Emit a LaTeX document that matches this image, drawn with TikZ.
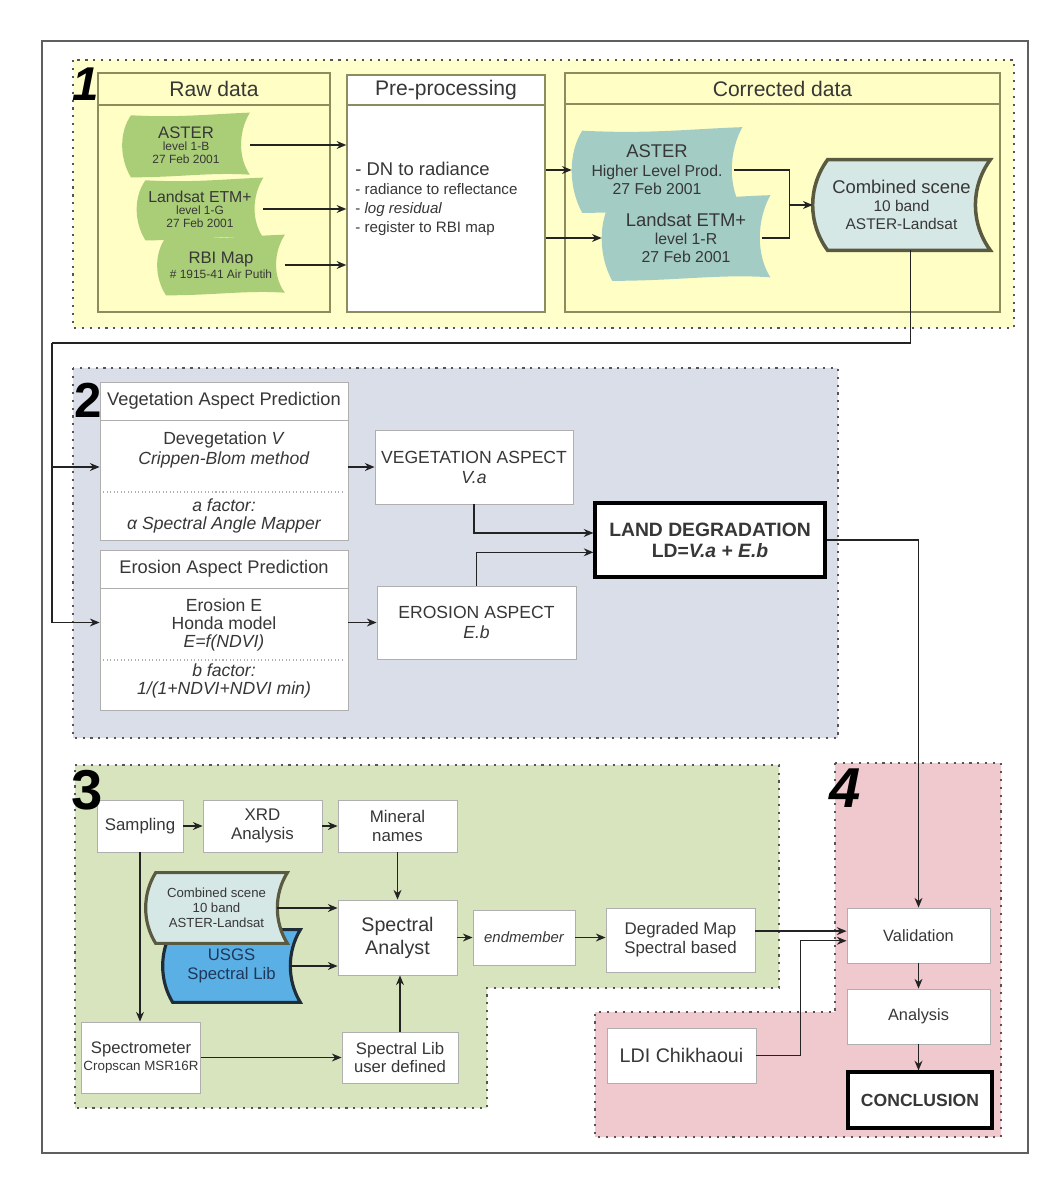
\documentclass[tikz,border=0pt]{standalone}
\usepackage{fontspec}
\setmainfont{Liberation Sans}
\usetikzlibrary{arrows.meta,positioning,calc,backgrounds}

\definecolor{txt}{RGB}{55,55,55}
\definecolor{boxline}{RGB}{175,175,175}
\definecolor{linecol}{RGB}{35,35,35}
\definecolor{dotline}{RGB}{85,85,85}
\definecolor{framecol}{RGB}{95,95,95}
\definecolor{sec1bg}{RGB}{255,255,204}
\definecolor{sec1panel}{RGB}{255,254,196}
\definecolor{panelline}{RGB}{140,140,95}
\definecolor{sec2bg}{RGB}{218,222,232}
\definecolor{sec3bg}{RGB}{216,228,190}
\definecolor{sec4bg}{RGB}{240,201,206}
\definecolor{rawgreen}{RGB}{170,205,120}
\definecolor{corteal}{RGB}{163,205,196}
\definecolor{combfill}{RGB}{214,232,230}
\definecolor{combline}{RGB}{90,90,65}
\definecolor{usgsblue}{RGB}{90,175,228}
\definecolor{usgsline}{RGB}{30,45,55}
\definecolor{usgstext}{RGB}{30,55,90}

\newcommand{\sz}[2]{\fontsize{#1pt}{#2pt}\selectfont}
% stored-data outline round a node: #1 node, #2 bulge, #3 wave, #4 style
\newcommand{\tapeshape}[4]{%
  \path[#4] let \p1=(#1.north west), \p2=(#1.south east), \n1={\x2-\x1} in
    ({\x1+#2},{\y1-#3}) .. controls ({\x1+0.45*\n1},{\y1-2*#3}) and ({\x2-0.3*\n1},{\y1-0.5*#3}) .. (\x2,\y1)
    .. controls ({\x2-1.333*#2},{0.7*\y1+0.3*\y2}) and ({\x2-1.333*#2},{0.3*\y1+0.7*\y2}) .. (\x2,{\y2+#3})
    .. controls ({\x2-0.3*\n1},{\y2+2*#3}) and ({\x1+0.45*\n1},{\y2}) .. ({\x1+#2},\y2)
    .. controls ({\x1-0.333*#2},{0.3*\y1+0.7*\y2}) and ({\x1-0.333*#2},{0.7*\y1+0.3*\y2}) .. cycle;}

\pgfdeclarelayer{back}
\pgfsetlayers{back,background,main}

\tikzset{
  box/.style={draw=boxline, fill=white, text=txt, align=center, inner sep=1pt, line width=0.5pt},
  heavybox/.style={box, draw=black, line width=1.8pt},
  datanode/.style={text=txt, align=center, inner sep=0pt},
  zone/.style={draw=dotline, line width=1.2pt, dash pattern=on 1.2pt off 3.3pt},
  panelbox/.style={draw=panelline, line width=0.8pt},
  link/.style={draw=linecol, line width=0.8pt, -{Stealth[length=5.5pt,width=4.5pt]}},
  wire/.style={draw=linecol, line width=0.8pt},
  secnum/.style={text=black, inner sep=0pt},
  splitline/.style={draw=boxline, line width=0.6pt, dash pattern=on 0.6pt off 1.4pt},
}

\begin{document}
\begin{tikzpicture}[x=0.02cm, y=-0.02cm]
\useasboundingbox (0,0) rectangle (1058,1189);
\draw[draw=framecol, line width=0.6pt] (42,41) rectangle (1028,1153);

% 1 - data preparation
\node[datanode, font={\sz{12}{14}}] (rawtitle) at (214,89) {Raw data};
\node[box, draw=panelline, line width=0.8pt, minimum width=3.96cm, minimum height=0.60cm, font={\sz{12}{14}}] (preptitle) at (446,90) {Pre-processing};
\node[box, draw=panelline, line width=0.8pt, minimum width=3.96cm, minimum height=4.14cm] (prep) at (446,208.5) {};
\node[datanode, align=left, anchor=west, font={\sz{8.6}{10.8}}] (preptext) at (355,199)
  {{\sz{10.5}{12}- DN to radiance}\\- radiance to reflectance\\- \textit{log residual}\\- register to RBI map};
\node[datanode, font={\sz{12}{14}}] (cortitle) at (782.5,88.5) {Corrected data};

\node[datanode, minimum width=2.54cm, minimum height=1.28cm, font={\sz{6.8}{7.2}}] (rawaster) at (186,145)
  {{\sz{9.5}{10}ASTER}\\level 1-B\\27 Feb 2001};
\node[datanode, minimum width=2.52cm, minimum height=1.24cm, font={\sz{6.8}{7.2}}] (rawetm) at (200,209)
  {{\sz{9}{10}Landsat ETM+}\\level 1-G\\27 Feb 2001};
\node[datanode, minimum width=2.54cm, minimum height=1.20cm, font={\sz{6.8}{8.5}}] (rawrbi) at (221,265)
  {{\sz{9.5}{10}RBI Map}\\\# 1915-41 Air Putih};

\node[datanode, minimum width=3.40cm, minimum height=1.70cm, font={\sz{9}{10.5}}] (coraster) at (657,170)
  {{\sz{10.5}{12}ASTER}\\Higher Level Prod.\\27 Feb 2001};
\node[datanode, minimum width=3.36cm, minimum height=1.70cm, font={\sz{9}{10.3}}] (coretm) at (686,238)
  {{\sz{10.5}{12}Landsat ETM+}\\level 1-R\\27 Feb 2001};
\node[datanode, minimum width=3.54cm, minimum height=1.80cm, font={\sz{8.8}{10.2}}] (comb) at (901.5,205)
  {{\sz{10.5}{12}Combined scene}\\10 band\\ASTER-Landsat};

\draw[link] (rawaster.east) -- (rawaster.east -| prep.west);
\draw[link] (rawetm.east) -- (rawetm.east -| prep.west);
\draw[link] (rawrbi.east) -- (rawrbi.east -| prep.west);
\draw[link] (coraster.west -| prep.east) -- (coraster.west);
\draw[link] (coretm.west -| prep.east) -- (coretm.west);
\coordinate (join) at ($(comb.west)+(-23,0)$);
\draw[wire] ([xshift=-5pt]coraster.east) -| (join);
\draw[wire] ([xshift=-5pt]coretm.east) -| (join);
\draw[link] (join) -- (comb.west);

% 2 - degradation model
\node[box, minimum width=4.96cm, minimum height=0.76cm, font={\sz{10.4}{12}}] (veghead) at (224,401) {Vegetation Aspect Prediction};
\node[box, minimum width=4.96cm, minimum height=2.40cm] (vegbody) at (224,480) {};
\node[datanode, font={\sz{10}{11.4}}] (devtext) at (224,450) {Devegetation \textit{V}\\\textit{Crippen-Blom method}};
\node[datanode, font={\sz{10}{10.5}\itshape}] (afactor) at (224,516) {a factor:\\α Spectral Angle Mapper};
\draw[splitline] (103,492) -- (345,492);

\node[box, minimum width=4.96cm, minimum height=0.76cm, font={\sz{10.4}{12}}] (erohead) at (224,569) {Erosion Aspect Prediction};
\node[box, minimum width=4.96cm, minimum height=2.44cm] (erobody) at (224,649) {};
\node[datanode, font={\sz{10}{10.4}}] (erotext) at (224,625) {Erosion E\\Honda model\\\textit{E=f(NDVI)}};
\node[datanode, font={\sz{10}{10.4}\itshape}] (bfactor) at (224,681) {b factor:\\1/(1+NDVI+NDVI min)};
\draw[splitline] (103,660) -- (345,660);

\node[box, minimum width=3.96cm, minimum height=1.48cm, font={\sz{10}{11.4}}] (vega) at (474,467) {VEGETATION ASPECT\\\textit{V.a}};
\node[box, minimum width=3.98cm, minimum height=1.46cm, font={\sz{10}{11.6}}] (eroa) at (476.5,622.5) {EROSION ASPECT\\\textit{E.b}};
\node[heavybox, minimum width=4.60cm, minimum height=1.48cm, font={\sz{11}{12}\bfseries}] (ld) at (710,540) {LAND DEGRADATION\\LD=\textit{V.a + E.b}};

\coordinate (turn) at (52,343);
\draw[wire] ([xshift=5pt]comb.south) |- (turn);
\draw[link] (turn) |- (erobody.west |- eroa.west);
\draw[link] (turn |- vega.west) -- (vegbody.west |- vega.west);
\draw[link] (vegbody.east |- vega.west) -- (vega.west);
\draw[link] (erobody.east |- eroa.west) -- (eroa.west);
\draw[link] (vega.south) |- ([yshift=4pt]ld.west);
\draw[link] (eroa.north) |- ([yshift=-7pt]ld.west);

% 3 - spectral analysis
\node[box, minimum width=1.72cm, minimum height=1.04cm, font={\sz{9.6}{10.4}}] (samp) at (140,826) {Sampling};
\node[box, minimum width=2.38cm, minimum height=1.04cm, font={\sz{9.6}{10.4}}] (xrd) at (262.5,826) {XRD\\Analysis};
\node[box, minimum width=2.38cm, minimum height=1.04cm, font={\sz{9.6}{10.4}}] (mineral) at (397.5,826) {Mineral\\names};
\node[datanode, minimum width=2.74cm, minimum height=1.44cm, text=usgstext, font={\sz{9.5}{10.4}}] (usgs) at (231.5,966) {USGS\\Spectral Lib};
\node[datanode, minimum width=2.82cm, minimum height=1.40cm, font={\sz{7.5}{8.5}}] (scomb) at (216.5,908) {Combined scene\\10 band\\ASTER-Landsat};
\node[box, minimum width=2.38cm, minimum height=1.50cm, font={\sz{11.2}{13}}] (spa) at (397.5,937.5) {Spectral\\Analyst};
\node[box, minimum width=2.36cm, minimum height=1.42cm, font={\sz{7.6}{9.7}}] (spectro) at (141,1057.5) {{\sz{9.5}{10}Spectrometer}\\Cropscan MSR16R};
\node[box, minimum width=2.32cm, minimum height=1.02cm, font={\sz{9.5}{10.4}}] (slib) at (400,1057.5) {Spectral Lib\\user defined};
\node[box, minimum width=2.04cm, minimum height=1.10cm, font={\sz{8.5}{10}\itshape}] (endm) at (524,937.5) {endmember};
\node[box, minimum width=2.98cm, minimum height=1.28cm, font={\sz{9.6}{10.8}}] (dmap) at (680.5,940) {Degraded Map\\Spectral based};

\draw[link] (samp.east) -- (xrd.west);
\draw[link] (xrd.east) -- (mineral.west);
\draw[link] (mineral.south) -- (spa.north);
\draw[link] ([xshift=-5.7pt]scomb.east) -- (scomb.east -| spa.west);
\draw[link] ([xshift=-5.7pt]usgs.east) -- (usgs.east -| spa.west);
\draw[link] (slib.north) -- (slib.north |- spa.south);
\draw[link] (samp.south) -- (samp.south |- spectro.north);
\draw[link] (spectro.east) -- (spectro.east -| slib.west);
\draw[link] (spa.east) -- (endm.west);
\draw[link] (endm.east) -- (endm.east -| dmap.west);

% 4 - validation
\node[box, minimum width=2.86cm, minimum height=1.10cm, font={\sz{9.3}{10}}] (valid) at (918.5,935.5) {Validation};
\node[box, minimum width=2.86cm, minimum height=1.10cm, font={\sz{9.3}{10}}] (anal) at (918.5,1016.5) {Analysis};
\node[heavybox, minimum width=2.88cm, minimum height=1.12cm, font={\sz{10}{11}\bfseries}] (concl) at (920,1100) {CONCLUSION};
\node[box, minimum width=2.98cm, minimum height=1.10cm, font={\sz{11.2}{12}}] (ldi) at (681.5,1055.5) {LDI Chikhaoui};

\path ([yshift=2.5pt]valid.west) coordinate (valin1) ([yshift=-3pt]valid.west) coordinate (valin2);
\draw[link] (ld.east) -| (valid.north);
\draw[link] (dmap.east |- valin1) -- (valin1);
\draw[link] (ldi.east) -- ++(44,0) |- (valin2);
\draw[link] (valid.south) -- (anal.north);
\draw[link] (anal.south) -- (anal.south |- concl.north);

% section numbers
\node[secnum, font={\sz{27}{27}\bfseries\itshape}] (num1) at (86,84) {1};
\node[secnum, font={\sz{28}{28}\bfseries}] (num2) at (88,400) {2};
\node[secnum, font={\sz{32}{32}\bfseries}] (num3) at (87,790) {3};
\node[secnum, font={\sz{32}{32}\bfseries\itshape}] (num4) at (845,788) {4};

% data shapes
\begin{pgfonlayer}{background}
  \tapeshape{rawaster}{5pt}{1.5pt}{fill=rawgreen}
  \tapeshape{rawetm}{5pt}{1.5pt}{fill=rawgreen}
  \tapeshape{rawrbi}{5pt}{1.5pt}{fill=rawgreen}
  \tapeshape{coretm}{6pt}{2pt}{fill=corteal}
  \tapeshape{coraster}{6pt}{2pt}{fill=corteal}
  \tapeshape{comb}{8.5pt}{0pt}{fill=combfill, draw=combline, line width=2pt}
  \tapeshape{usgs}{5.7pt}{0pt}{fill=usgsblue, draw=usgsline, line width=1.8pt}
  \tapeshape{scomb}{5.7pt}{0pt}{fill=combfill, draw=combline, line width=1.8pt}
\end{pgfonlayer}

% zones
\begin{pgfonlayer}{back}
  \fill[white] (0,0) rectangle (1058,1189);
  \draw[zone, fill=sec1bg] (73,60) rectangle (1014,328);
  \draw[panelbox, fill=sec1panel] (98,73) rectangle (330,312);
  \draw[panelbox] (98,105) -- (330,105);
  \draw[panelbox, fill=sec1panel] (565,73) rectangle (1000,312);
  \draw[panelbox] (565,104) -- (1000,104);
  \draw[zone, fill=sec2bg] (73,368) rectangle (838,738);
  \draw[zone, fill=sec3bg] (75,765) -- (779,765) -- (779,988) -- (487,988) -- (487,1108) -- (75,1108) -- cycle;
  \draw[zone, fill=sec4bg] (835,763) -- (1001,763) -- (1001,1137) -- (595,1137) -- (595,1012) -- (835,1012) -- cycle;
\end{pgfonlayer}
\end{tikzpicture}
\end{document}
